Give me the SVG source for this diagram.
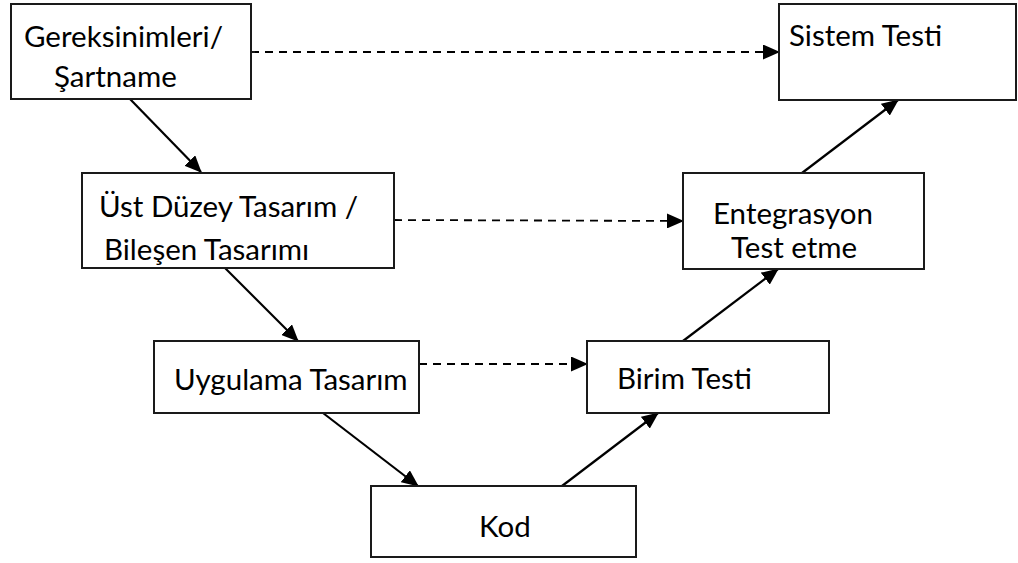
<svg xmlns="http://www.w3.org/2000/svg" width="1018" height="563" viewBox="0 0 1018 563">
<style>
.box{fill:#fff;stroke:#1a1a1a;stroke-width:2}
.t{font-family:Lato,"Open Sans","Liberation Sans",sans-serif;font-size:29.5px;fill:#000}
.c{stroke:#000;stroke-width:2.2;fill:none}
.d{stroke:#000;stroke-width:1.8;fill:none;stroke-dasharray:8 6}
</style>
<defs>
<marker id="ah" markerWidth="17" markerHeight="15" refX="16" refY="7.5" orient="auto" markerUnits="userSpaceOnUse">
<path d="M0,0 L17,7.5 L0,15 Z" fill="#000"/>
</marker>
</defs>
<rect width="1018" height="563" fill="#fff"/>
<g id="connectors">
<line class="d" x1="251" y1="52" x2="779" y2="52" marker-end="url(#ah)"/>
<line class="d" x1="394" y1="220" x2="683" y2="221" marker-end="url(#ah)"/>
<line class="d" x1="419" y1="364" x2="587" y2="364" marker-end="url(#ah)"/>
<line class="c" x1="130" y1="99" x2="201" y2="172" marker-end="url(#ah)"/>
<line class="c" x1="225" y1="268" x2="298" y2="341" marker-end="url(#ah)"/>
<line class="c" x1="323" y1="413" x2="418" y2="486" marker-end="url(#ah)"/>
<line class="c" x1="562" y1="486" x2="658" y2="413" marker-end="url(#ah)"/>
<line class="c" x1="683" y1="341" x2="778" y2="269" marker-end="url(#ah)"/>
<line class="c" x1="802" y1="173" x2="898" y2="100" marker-end="url(#ah)"/>
</g>
<g id="gereksinimler">
<rect class="box" x="11" y="4" width="240" height="95"/>
<text class="t" x="24" y="47">Gereksinimleri/</text>
<text class="t" x="54" y="87">Şartname</text>
</g>
<g id="sistem-testi">
<rect class="box" x="779" y="4" width="237" height="96"/>
<text class="t" x="789" y="46">Sistem Testi</text>
</g>
<g id="ust-duzey">
<rect class="box" x="82" y="173" width="312" height="95"/>
<text class="t" x="99" y="217">Üst Düzey Tasarım /</text>
<text class="t" x="104" y="260">Bileşen Tasarımı</text>
</g>
<g id="entegrasyon">
<rect class="box" x="683" y="173" width="241" height="96"/>
<text class="t" x="713" y="224">Entegrasyon</text>
<text class="t" x="731" y="258">Test etme</text>
</g>
<g id="uygulama">
<rect class="box" x="154" y="341" width="265" height="72"/>
<text class="t" x="174" y="390">Uygulama Tasarım</text>
</g>
<g id="birim-testi">
<rect class="box" x="587" y="341" width="242" height="72"/>
<text class="t" x="617" y="389">Birim Testi</text>
</g>
<g id="kod">
<rect class="box" x="371" y="486" width="265" height="71"/>
<text class="t" x="479" y="537">Kod</text>
</g>
</svg>
